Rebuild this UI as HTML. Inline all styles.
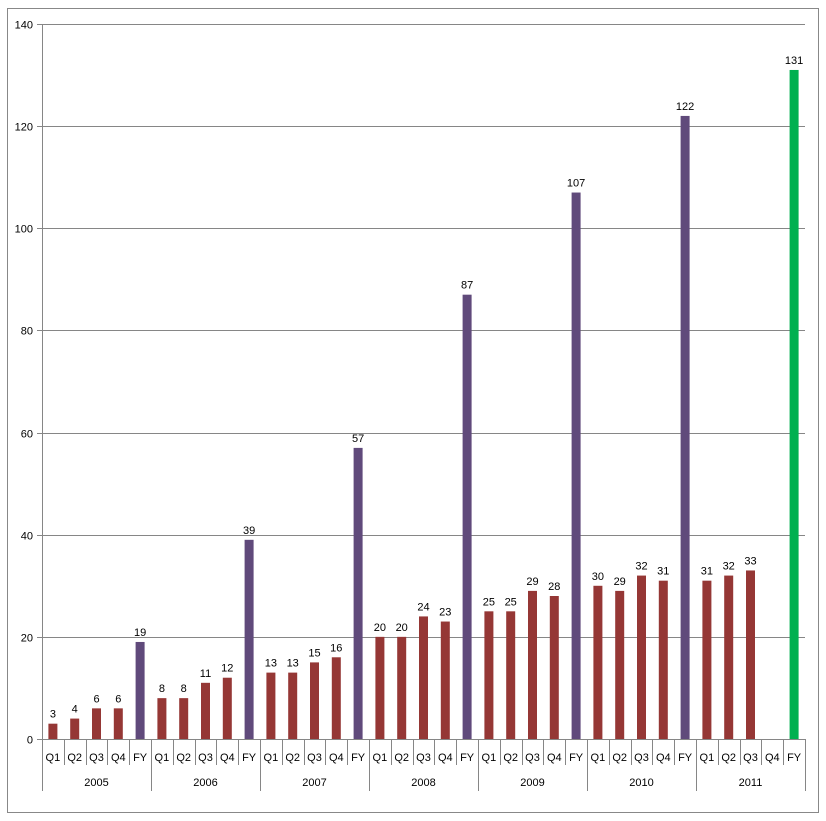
<!DOCTYPE html>
<html><head><meta charset="utf-8"><style>
body{margin:0;background:#fff;}
svg{display:block;font-family:"Liberation Sans",sans-serif;}
</style></head><body>
<svg id="chart" width="826" height="821">
<rect x="7.5" y="8.5" width="811" height="804" fill="#fff" stroke="#888"/>
<g id="grid"></g>
<g id="bars"></g>
<g id="axes"></g>
</svg>
<script>
const years = ["2005","2006","2007","2008","2009","2010","2011"];
const periods = ["Q1","Q2","Q3","Q4","FY"];
const values = [3,4,6,6,19, 8,8,11,12,39, 13,13,15,16,57, 20,20,24,23,87, 25,25,29,28,107, 30,29,32,31,122, 31,32,33,null,131];
const yTicks = [0,20,40,60,80,100,120,140];
const NS="http://www.w3.org/2000/svg";
const X0=42,X1=805,Y0=739,Y1=24,YMAX=140;
const n=years.length*periods.length, slot=(X1-X0)/n;
const yScale=v=>Y0-(v/YMAX)*(Y0-Y1);
const xCenter=i=>X0+slot*(i+0.5);
function mk(tag,attrs,parent,text){const e=document.createElementNS(NS,tag);for(const k in attrs)e.setAttribute(k,attrs[k]);if(text!==undefined)e.textContent=text;parent.appendChild(e);return e;}
const grid=document.getElementById('grid'),bars=document.getElementById('bars'),axes=document.getElementById('axes');
yTicks.forEach(t=>{const y=Math.round(yScale(t))+0.5;
 if(t>0){const l=mk('line',{x1:X0,x2:X1,y1:y,y2:y,stroke:'#868686'},grid);
 
 }
 const tk=mk('line',{x1:37,x2:X0,y1:y,y2:y,stroke:'#868686'},axes);
 
 
 const tx=mk('text',{x:33,y:y+4,'text-anchor':'end','font-size':'11',fill:'#000'},axes,String(t));
 
 
});
values.forEach((v,i)=>{
 if(v===null)return;
 const yi=Math.floor(i/periods.length),pi=i%periods.length;
 const fy=pi===4;
 const color=fy?(yi===years.length-1?'#00B050':'#604A7B'):'#953735';
 const cx=xCenter(i),w=9,top=yScale(v);
 const r=mk('rect',{x:cx-w/2,y:top,width:w,height:Y0-top,fill:color},bars);
 
 
 const t=mk('text',{x:cx,y:top-6,'text-anchor':'middle','font-size':'11',fill:'#000'},bars,String(v));
 
 
});
const ax=mk('line',{x1:X0,x2:X1,y1:Y0+0.5,y2:Y0+0.5,stroke:'#868686'},axes);


const ay=mk('line',{x1:X0+0.5,x2:X0+0.5,y1:Y1,y2:Y0,stroke:'#868686'},axes);


for(let i=0;i<=n;i++){
 const x=Math.round(X0+slot*i)+0.5,isYear=i%periods.length===0;
 const l=mk('line',{x1:x,x2:x,y1:Y0,y2:isYear?791:765,stroke:'#868686'},axes);
 
 
}
values.forEach((v,i)=>{
 const t=mk('text',{x:xCenter(i),y:761,'text-anchor':'middle','font-size':'11',fill:'#000'},axes,periods[i%periods.length]);
 
 
});
years.forEach((y,k)=>{
 const cx=X0+slot*periods.length*(k+0.5);
 const t=mk('text',{x:cx,y:786,'text-anchor':'middle','font-size':'11',fill:'#000'},axes,y);
 
 
});
</script>
</body></html>
